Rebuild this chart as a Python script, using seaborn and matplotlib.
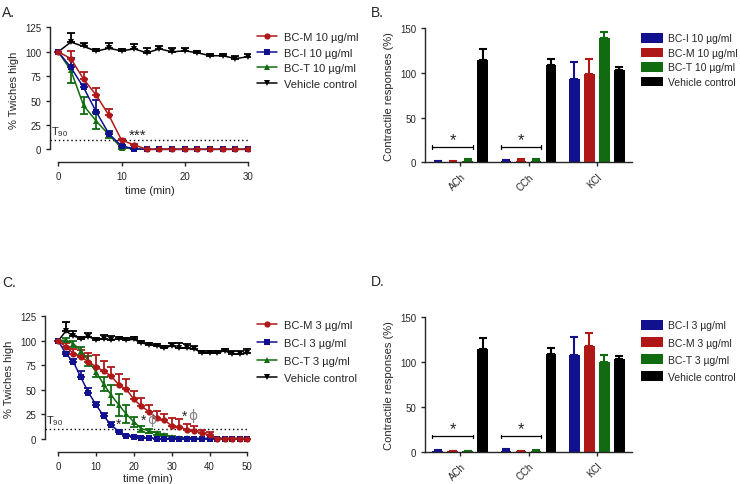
import matplotlib
matplotlib.use("Agg")
import matplotlib.pyplot as plt
from matplotlib.lines import Line2D
from matplotlib.patches import Patch
import seaborn as sns
import pandas as pd
import numpy as np

# ---------------- data ----------------
time_a = list(range(0, 31, 2))
bcm10 = [100, 93, 72, 55.5, 35, 9.5, 4.5, 0, 0, 0, 0, 0, 0, 0, 0, 0]
bcm10_err = [0, 8, 7, 7, 6, 1, 1, 0, 0, 0, 0, 0, 0, 0, 0, 0]
bci10 = [100, 84, 63.5, 38.5, 16, 3.5, 0.5, 0, 0, 0, 0, 0, 0, 0, 0, 0]
bci10_err = [0, 10, 4, 12, 3, 1, 0.5, 0, 0, 0, 0, 0, 0, 0, 0, 0]
bct10 = [100, 81, 45, 29, 15, 1.5, 0.5, 0, 0, 0, 0, 0, 0, 0, 0, 0]
bct10_err = [0, 12.5, 8.5, 8.5, 3, 1, 0, 0, 0, 0, 0, 0, 0, 0, 0, 0]
veh10 = [100, 110, 105.5, 100.7, 103.6, 101, 103, 99, 103, 100, 101, 99, 96, 96, 93, 95]
veh10_err = [0, 9, 4, 2, 5, 2, 5, 5, 3, 4, 3, 2, 2, 2, 3, 3]

time_c = list(range(0, 51, 2))
bcm3 = [100, 94, 87, 83.5, 78.5, 73.5, 69, 64, 55, 50.5, 40, 33, 27.5, 21, 19, 13,
        12, 9, 7.5, 6, 3.5, 0, 0, 0, 0, 0]
bcm3_err = [0, 4, 5, 7, 9, 12, 10, 9, 11, 10, 8.5, 8, 7, 7, 6, 8, 8, 6, 5, 3, 3,
            0.5, 0, 0, 0, 0]
bci3 = [100, 87, 78.5, 62.5, 47, 34.5, 23, 14, 7, 3, 1.4, 0.8, 0.5, 0, 0, 0, 0, 0,
        0, 0, 0, 0, 0, 0, 0, 0]
bci3_err = [0, 2, 3, 7, 5, 3, 3, 3, 2, 1, 1, 0.5, 0.5, 0, 0, 0, 0, 0, 0, 0, 0, 0,
            0, 0, 0, 0]
bct3 = [100, 101, 97, 90, 79.5, 68, 55.6, 44.4, 34.5, 25, 17, 10, 8, 5.5, 3.4, 2,
        1, 0.5, 0, 0, 0, 0, 0, 0, 0, 0]
bct3_err = [0, 2, 3, 4, 5, 5, 7, 10, 11, 9, 5, 3, 2, 1.5, 1, 1, 0.5, 0, 0, 0, 0, 0,
            0, 0, 0, 0]
veh3 = [100, 110, 105, 102.4, 104.4, 101, 102.4, 100.7, 102.4, 101, 101.5, 98, 96,
        95, 92.5, 95, 92.5, 92.5, 91.5, 88, 87.4, 87.4, 90, 86.3, 86.3, 87.4]
veh3_err = [0, 9, 5, 2, 4, 2, 4, 4, 2, 2, 2, 2, 2, 2, 2, 3, 5, 4, 3, 2, 2, 2, 2, 3,
            3, 4]

agonists = ["ACh", "CCh", "KCl"]
bci10_bar = [0.5, 1.5, 93];   bci10_bar_err = [0.5, 1, 19]
bcm10_bar = [0.5, 2, 98.5];   bcm10_bar_err = [0.5, 2, 16.5]
bct10_bar = [2, 2, 139];      bct10_bar_err = [1.5, 2, 7]
veh_bar = [114, 108.5, 103];  veh_bar_err = [12, 7, 3.5]
bci3_bar = [1, 1, 108];       bci3_bar_err = [1, 2.5, 19]
bcm3_bar = [0.5, 0.5, 117.5]; bcm3_bar_err = [0.5, 0.5, 14]
bct3_bar = [0.5, 1, 100];     bct3_bar_err = [0.5, 1, 7.5]

RED = "#b01818"
BLUE = "#111190"
GREEN = "#116b11"
BLACK = "#000000"

sns.set_style("ticks")
plt.rcParams["font.family"] = ["Liberation Sans", "DejaVu Sans"]
plt.rcParams["mathtext.fontset"] = "custom"
plt.rcParams["mathtext.rm"] = "Liberation Sans"
plt.rcParams["xtick.labelsize"] = 7
plt.rcParams["ytick.labelsize"] = 7
plt.rcParams["axes.linewidth"] = 1.0
plt.rcParams["xtick.major.width"] = 1.0
plt.rcParams["ytick.major.width"] = 1.0
plt.rcParams["xtick.major.size"] = 3
plt.rcParams["ytick.major.size"] = 3

fig = plt.figure(figsize=(7.4, 4.85), dpi=100)
W, H = 740.0, 485.0
LEG_FS = 8
BAR_LEG_FS = 7.5


def px_axes(left, right, top, bottom):
    return fig.add_axes([left / W, 1 - bottom / H, (right - left) / W, (bottom - top) / H])


def time_panel(ax, t, series, xlim, xticks, outward, xlabelpad):
    rows = []
    for name, vals, errs, col, mk, both in series:
        for ti, v, e in zip(t, vals, errs):
            rows.append(dict(time=ti, value=v, err=e, series=name))
    df = pd.DataFrame(rows)
    draw_order = [s[0] for s in series][::-1]
    pal = {s[0]: s[3] for s in series}
    mks = {s[0]: s[4] for s in series}
    for name, vals, errs, col, mk, both in series[::-1]:
        errs = np.array(errs)
        lower = errs if both else np.zeros_like(errs)
        ax.errorbar(t, vals, yerr=[lower, errs], fmt="none", ecolor=col,
                    elinewidth=1.3, capsize=3, capthick=1.3, zorder=2)
    sns.lineplot(data=df, x="time", y="value", hue="series", style="series",
                 hue_order=draw_order, style_order=draw_order, palette=pal,
                 markers=mks, dashes=False, markersize=4.5, markeredgewidth=0,
                 linewidth=1.1, errorbar=None, legend=False, ax=ax, zorder=3)
    ax.set_xlim(*xlim)
    ax.set_ylim(-4.8, 127.5)
    ax.set_yticks([0, 25, 50, 75, 100, 125])
    ax.set_xticks(xticks)
    ax.spines["top"].set_visible(False)
    ax.spines["right"].set_visible(False)
    ax.spines["left"].set_bounds(0, 125)
    ax.spines["bottom"].set_bounds(xticks[0], xticks[-1])
    ax.spines["bottom"].set_position(("outward", outward))
    ax.set_xlabel("time (min)", fontsize=8, labelpad=xlabelpad)
    ax.set_ylabel("% Twiches high", fontsize=8, labelpad=4)
    ax.hlines(10, xlim[0], xticks[-1], colors="black", linestyles=(0, (1, 2)), lw=1.0,
              zorder=1)
    ax.text(xlim[0] + 0.2 * (xlim[1] - xlim[0]) / 31.6, 11.5, r"T$_{\mathregular{90}}$",
            fontsize=8, ha="left", va="bottom")


# ---------------- panel A ----------------
axA = px_axes(50, 250, 26, 155)
seriesA = [
    ("BC-M 10 µg/ml", bcm10, bcm10_err, RED, "o", False),
    ("BC-I 10 µg/ml", bci10, bci10_err, BLUE, "s", False),
    ("BC-T 10 µg/ml", bct10, bct10_err, GREEN, "^", True),
    ("Vehicle control", veh10, veh10_err, BLACK, "v", False),
]
time_panel(axA, time_a, seriesA, (-1.3, 30.3), [0, 10, 20, 30], 5.8, 3)
axA.text(12.6, 7.5, "***", fontsize=11, ha="center", va="bottom")

# ---------------- panel C ----------------
axC = px_axes(45, 250, 315, 444.2)
seriesC = [
    ("BC-M 3 µg/ml", bcm3, bcm3_err, RED, "o", False),
    ("BC-I 3 µg/ml", bci3, bci3_err, BLUE, "s", False),
    ("BC-T 3 µg/ml", bct3, bct3_err, GREEN, "^", True),
    ("Vehicle control", veh3, veh3_err, BLACK, "v", False),
]
time_panel(axC, time_c, seriesC, (-3.5, 50.7), [0, 10, 20, 30, 40, 50], 6.3, 1.5)
axC.text(16, 7.5, "*", fontsize=10, ha="center", va="bottom")
axC.text(22.5, 12, "*", fontsize=10, ha="center", va="bottom")
axC.text(24.8, 13, "ϕ", fontsize=10, ha="center", va="bottom", color="#888888",
         family=["DejaVu Sans"])
axC.text(33.3, 16, "*", fontsize=10, ha="center", va="bottom")
axC.text(35.5, 17, "ϕ", fontsize=10, ha="center", va="bottom", color="#888888",
         family=["DejaVu Sans"])


def legend_lines(series, x, y, spacing):
    handles = [Line2D([0], [0], color=s[3], marker=s[4], markersize=4.5, lw=1.1,
                      markeredgewidth=0) for s in series]
    fig.legend(handles, [s[0] for s in series], loc="upper left",
               bbox_to_anchor=(x / W, 1 - y / H), frameon=False, fontsize=LEG_FS,
               handlelength=1.8, handletextpad=0.6, labelspacing=spacing,
               borderpad=0, borderaxespad=0)


legend_lines(seriesA, 257, 33, 0.5)
legend_lines(seriesC, 257, 321, 0.7)


# ---------------- bar panels ----------------
def bar_panel(ax, groups, leg_y, spacing):
    names = [g[0] for g in groups]
    rows = []
    for name, vals, errs, col in groups:
        for a, v in zip(agonists, vals):
            rows.append(dict(agonist=a, value=v, treatment=name))
    df = pd.DataFrame(rows)
    pal = {g[0]: g[3] for g in groups}
    sns.barplot(data=df, x="agonist", y="value", hue="treatment", hue_order=names,
                order=agonists, palette=pal, errorbar=None, width=0.88, gap=0.27,
                saturation=1, legend=False, ax=ax, linewidth=0, zorder=2)
    for cont, (name, vals, errs, col) in zip(ax.containers, groups):
        xs = [b.get_x() + b.get_width() / 2 for b in cont]
        ax.errorbar(xs, vals, yerr=[np.zeros(len(errs)), errs], fmt="none",
                    ecolor=col, elinewidth=1.5, capsize=3.2, capthick=1.5, zorder=1)
    for j in range(2):
        b0 = ax.containers[0][j]
        b2 = ax.containers[2][j]
        x0 = b0.get_x()
        x1 = b2.get_x() + b2.get_width()
        ax.plot([x0, x1], [17, 17], color="black", lw=0.9)
        ax.plot([x0, x0], [15, 19], color="black", lw=0.9)
        ax.plot([x1, x1], [15, 19], color="black", lw=0.9)
        ax.text((x0 + x1) / 2, 17.5, "*", fontsize=12, ha="center", va="bottom")
    ax.set_xlim(-0.52, 2.52)
    ax.set_ylim(0, 150)
    ax.set_yticks([0, 50, 100, 150])
    ax.spines["top"].set_visible(False)
    ax.spines["right"].set_visible(False)
    ax.set_xlabel("")
    ax.set_ylabel("Contractile responses (%)", fontsize=8, labelpad=4)
    ax.set_xticks(range(len(agonists)))
    ax.set_xticklabels(agonists, rotation=45, ha="right", rotation_mode="anchor")
    handles = [Patch(facecolor=g[3], edgecolor="none") for g in groups]
    fig.legend(handles, names, loc="upper left", bbox_to_anchor=(641 / W, 1 - leg_y / H),
               frameon=False, fontsize=BAR_LEG_FS, handlelength=2.1, handleheight=1.05,
               handletextpad=0.5, labelspacing=spacing, borderpad=0, borderaxespad=0)


axB = px_axes(425, 632, 29, 163.3)
groupsB = [
    ("BC-I 10 µg/ml", bci10_bar, bci10_bar_err, BLUE),
    ("BC-M 10 µg/ml", bcm10_bar, bcm10_bar_err, RED),
    ("BC-T 10 µg/ml", bct10_bar, bct10_bar_err, GREEN),
    ("Vehicle control", veh_bar, veh_bar_err, BLACK),
]
bar_panel(axB, groupsB, 34, 0.4)

axD = px_axes(425, 632, 317.7, 452.7)
groupsD = [
    ("BC-I 3 µg/ml", bci3_bar, bci3_bar_err, BLUE),
    ("BC-M 3 µg/ml", bcm3_bar, bcm3_bar_err, RED),
    ("BC-T 3 µg/ml", bct3_bar, bct3_bar_err, GREEN),
    ("Vehicle control", veh_bar, veh_bar_err, BLACK),
]
bar_panel(axD, groupsD, 321, 0.65)

# panel letters
for lbl, x, y in [("A.", 2, 13), ("B.", 371, 13), ("C.", 2, 283), ("D.", 371, 282)]:
    fig.text(x / W, 1 - y / H, lbl, fontsize=10, ha="left", va="center")

fig.savefig("out.png", dpi=100)
